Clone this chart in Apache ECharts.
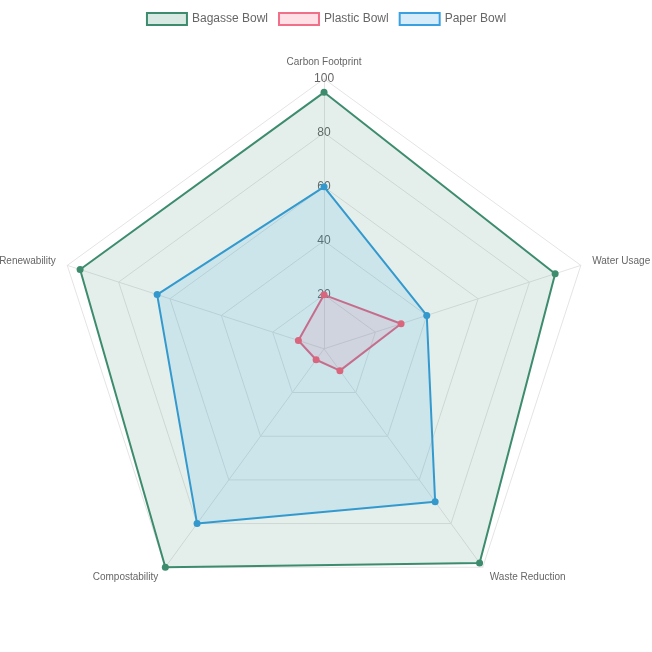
<!DOCTYPE html>
<html><head><meta charset="utf-8">
<script src="https://cdn.jsdelivr.net/npm/echarts@6/dist/echarts.min.js"></script>
<style>html,body{margin:0;padding:0;background:#fff}#c{width:652px;height:652px}</style>
</head><body><div id="c"></div>
<script>
// ECharts radar runs counter-clockwise, so axes are listed in that order
const indicators = ['Carbon Footprint','Renewability','Compostability','Waste Reduction','Water Usage'];
const bagasse = [95, 95, 100, 98, 90];
const plastic = [20, 10, 5, 10, 30];
const paper = [60, 65, 80, 70, 40];
const ticks = [0, 20, 40, 60, 80, 100];

const center = ['49.7%', '53.5%'];
const R = 270;
const chart = echarts.init(document.getElementById('c'));
function s(name, data, line, area) {
  return {
    type: 'radar', name, data: [{value: data, name}],
    symbol: 'circle', symbolSize: 7,
    lineStyle: {color: line, width: 2},
    itemStyle: {color: line},
    areaStyle: {color: area}
  };
}
chart.setOption({
  animation: false,
  legend: {
    top: 7, itemWidth: 40, itemHeight: 12, itemGap: 10, icon: 'rect',
    textStyle: {color: '#666', fontSize: 12, fontFamily: 'Liberation Sans, Arial'},
    data: [
      {name: 'Bagasse Bowl', itemStyle: {color: 'rgba(61,140,110,0.2)', borderColor: '#3d8c6e', borderWidth: 2}},
      {name: 'Plastic Bowl', itemStyle: {color: 'rgba(255,99,132,0.2)', borderColor: '#f0708a', borderWidth: 2}},
      {name: 'Paper Bowl', itemStyle: {color: 'rgba(54,162,235,0.2)', borderColor: '#3aa0e0', borderWidth: 2}}
    ]
  },
  radar: {
    center, radius: R, splitNumber: 5, shape: 'polygon', startAngle: 90,
    indicator: indicators.map(n => ({name: n, max: 100, min: 0})),
    axisName: {color: '#666', fontSize: 10, fontFamily: 'Liberation Sans, Arial'},
    nameGap: 12,
    splitLine: {lineStyle: {color: '#e4e4e4'}},
    splitArea: {show: false},
    axisLine: {lineStyle: {color: '#e4e4e4'}}
  },
  polar: {center, radius: R},
  angleAxis: {show: false, startAngle: 90, min: 0, max: 360},
  radiusAxis: {
    min: 0, max: 100, interval: 20,
    axisLine: {show: false}, axisTick: {show: false}, splitLine: {show: false},
    axisLabel: {color: '#666', fontSize: 12, formatter: v => ticks.includes(v) && v > 0 ? String(v) : '', margin: 0, align: 'center', verticalAlign: 'middle'}
  },
  series: [
    s('Bagasse Bowl', bagasse, '#3d8c6e', 'rgba(61,140,110,0.2)'),
    s('Plastic Bowl', plastic, '#d9667c', 'rgba(255,99,132,0.2)'),
    s('Paper Bowl', paper, '#3399cc', 'rgba(54,162,235,0.2)')
  ]
});
</script></body></html>
